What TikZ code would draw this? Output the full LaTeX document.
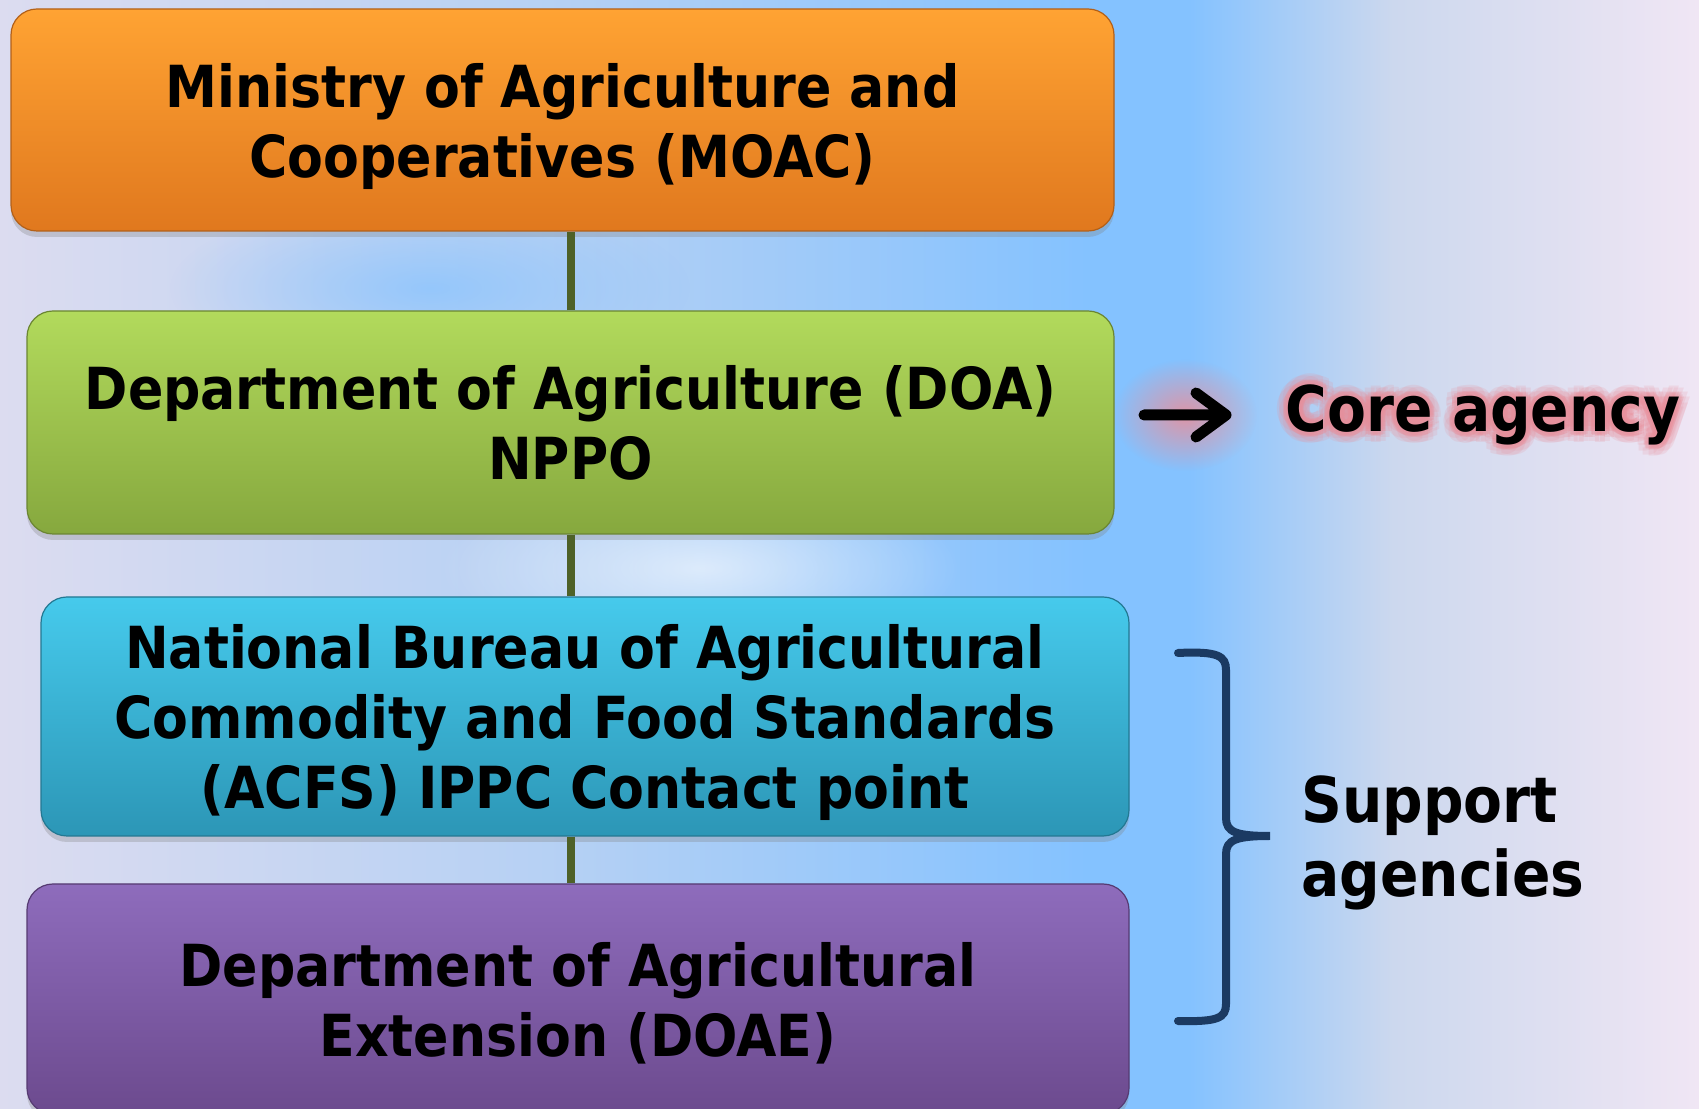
\documentclass[tikz,border=0pt]{standalone}
\usepackage{fontspec}
\setmainfont{DejaVu Sans Condensed}
\usetikzlibrary{arrows.meta,shadows,fadings,calc}

\definecolor{bgLav}{HTML}{DCDCF0}
\definecolor{bgMid}{HTML}{B4D0F4}
\definecolor{bgBlue}{HTML}{84C2FF}
\definecolor{bgPale}{HTML}{CCD8EE}
\definecolor{bgPink}{HTML}{F0E6F4}
\definecolor{orTop}{HTML}{FFA333}
\definecolor{orBot}{HTML}{E0781E}
\definecolor{grTop}{HTML}{B2DA5C}
\definecolor{grBot}{HTML}{86A83E}
\definecolor{cyTop}{HTML}{46CAEC}
\definecolor{cyBot}{HTML}{2C96B6}
\definecolor{puTop}{HTML}{8E6CBC}
\definecolor{puBot}{HTML}{6C4A8E}
\definecolor{stem}{HTML}{4E6128}
\definecolor{navy}{HTML}{1B3A62}
\definecolor{halo}{HTML}{E8909C}

\pgfdeclarehorizontalshading{bgshade}{100bp}{color(0bp)=(bgLav); color(25bp)=(bgLav);
  color(42bp)=(bgMid); color(57bp)=(bgBlue); color(60bp)=(bgBlue); color(66bp)=(bgPale);
  color(75bp)=(bgPink); color(100bp)=(bgPink)}
\tikzfading[name=softglow, inner color=transparent!0, outer color=transparent!100]

\tikzset{
  agency/.style={rounded corners=26pt, line width=1.2pt, align=center,
    font=\fontsize{58}{70}\selectfont\bfseries, text depth=-6pt,
    drop shadow={shadow xshift=0pt, shadow yshift=-6pt, opacity=.3}},
  stemline/.style={stem, line width=8pt},
  label/.style={font=\fontsize{63}{74}\selectfont\bfseries, align=left},
}

\begin{document}
\begin{tikzpicture}[x=1pt,y=1pt]
	\shade[shading=bgshade] (0,0) rectangle (1699,1108);
	\useasboundingbox (0,0) rectangle (1699,1108);
	\fill[bgBlue, opacity=.7, path fading=softglow] (430,820) ellipse (260 and 90);
	\fill[white, opacity=.6, path fading=softglow] (700,540) ellipse (260 and 90);

	% boxes
	\node[agency, draw=orBot!80!black, top color=orTop, bottom color=orBot,
		minimum width=1103pt, minimum height=222pt] (moac) at (562.5,988)
		{Ministry of Agriculture and\\Cooperatives (MOAC)};
	\node[agency, draw=grBot!80!black, top color=grTop, bottom color=grBot,
		minimum width=1087pt, minimum height=223pt] (doa) at (570.5,685.5)
		{Department of Agriculture (DOA)\\NPPO};
	\node[agency, draw=cyBot!80!black, top color=cyTop, bottom color=cyBot,
		minimum width=1088pt, minimum height=239pt] (acfs) at (585,391.5)
		{National Bureau of Agricultural\\Commodity and Food Standards\\(ACFS) IPPC Contact point};
	\node[agency, draw=puBot!80!black, top color=puTop, bottom color=puBot,
		minimum width=1102pt, minimum height=230pt] (doae) at (578,109)
		{Department of Agricultural\\Extension (DOAE)};

	% links
	\draw[stemline] (doa.north) -- (doa.north |- moac.south);
	\draw[stemline] (doa.south) -- (doa.south |- acfs.north);
	\draw[stemline] (doa.south |- acfs.south) -- (doa.south |- doae.north);

	% core agency
	\coordinate (arrS) at (1144,693);
	\coordinate (arrE) at (1226,693);
	\coordinate (coreAt) at (1483,693);
	\foreach \a in {0,30,...,330} {
		\node[label, text=halo, opacity=.18] (glowA\a) at ($(coreAt)+(\a:11pt)$) {Core agency};
		\node[label, text=halo, opacity=.3] (glowB\a) at ($(coreAt)+(\a:5pt)$) {Core agency};
	}
	\fill[halo, opacity=.9, path fading=softglow] ($(arrS)!.5!(arrE)$) ellipse (72 and 56);
	\node[label] (core) at (coreAt) {Core agency};
	\draw[line width=11pt, line cap=round, line join=round]
		(arrS) -- (arrE) ($(arrE)+(-30,22)$) -- (arrE) -- ($(arrE)+(-30,-22)$);

	% support agencies
	\coordinate (brTop) at (1178,455);
	\coordinate (brTip) at (1270,272);
	\coordinate (brBot) at (1178,87);
	\draw[navy, line width=8pt, line cap=round]
		(brTop) .. controls (1218,457) and (1226,452) .. (1226,438) -- (1226,290)
		.. controls (1226,276) and (1236,272) .. (brTip)
		.. controls (1236,272) and (1226,268) .. (1226,254) -- (1226,104)
		.. controls (1226,90) and (1218,86) .. (brBot);
	\node[label, anchor=west] (support) at (1298,265) {Support\\agencies};
\end{tikzpicture}
\end{document}
